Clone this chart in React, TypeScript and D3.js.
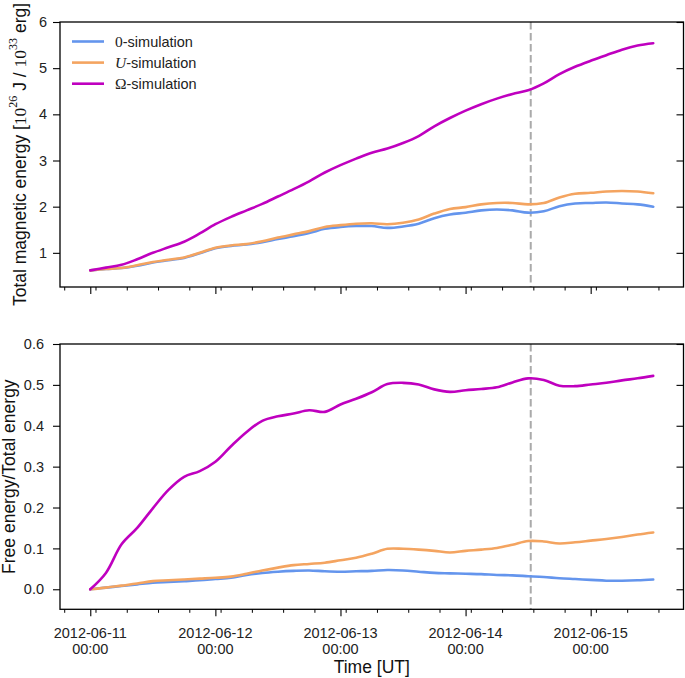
import React, { useEffect, useRef } from 'react';
import * as d3 from 'd3';

// hours after 2012-06-11 00:00 UT
const hours = [0, 3, 6, 9, 12, 15, 18, 21, 24, 27, 30, 33, 36, 39, 42, 45, 48, 51, 54, 57, 60, 63, 66, 69, 72, 75, 78, 81, 84, 87, 90, 93, 96, 99, 102, 105, 108];

// total magnetic energy [1e26 J]
const totalZero = [0.62, 0.65, 0.67, 0.72, 0.79, 0.84, 0.89, 0.99, 1.10, 1.15, 1.18, 1.23, 1.30, 1.36, 1.43, 1.52, 1.56, 1.58, 1.58, 1.54, 1.57, 1.63, 1.75, 1.83, 1.87, 1.92, 1.94, 1.92, 1.87, 1.90, 2.01, 2.07, 2.08, 2.09, 2.07, 2.05, 2.00];
const totalU = [0.62, 0.65, 0.67, 0.73, 0.80, 0.85, 0.90, 1.00, 1.11, 1.16, 1.19, 1.25, 1.33, 1.40, 1.47, 1.56, 1.60, 1.63, 1.64, 1.62, 1.65, 1.72, 1.85, 1.95, 1.99, 2.05, 2.08, 2.08, 2.05, 2.08, 2.20, 2.28, 2.30, 2.33, 2.34, 2.33, 2.29];
const totalOmega = [0.62, 0.68, 0.74, 0.86, 1.00, 1.12, 1.24, 1.42, 1.62, 1.78, 1.92, 2.06, 2.22, 2.38, 2.55, 2.74, 2.90, 3.04, 3.17, 3.26, 3.38, 3.53, 3.74, 3.92, 4.08, 4.22, 4.34, 4.44, 4.52, 4.67, 4.87, 5.03, 5.16, 5.28, 5.40, 5.49, 5.54];

// free energy / total energy
const ratioZero = [0, 0.004, 0.008, 0.012, 0.016, 0.018, 0.020, 0.022, 0.025, 0.028, 0.035, 0.040, 0.043, 0.045, 0.046, 0.044, 0.043, 0.044, 0.045, 0.047, 0.046, 0.043, 0.040, 0.039, 0.038, 0.037, 0.035, 0.034, 0.032, 0.030, 0.027, 0.025, 0.023, 0.021, 0.021, 0.022, 0.024];
const ratioU = [0, 0.004, 0.009, 0.014, 0.020, 0.022, 0.024, 0.026, 0.028, 0.031, 0.038, 0.046, 0.053, 0.059, 0.062, 0.065, 0.071, 0.077, 0.087, 0.099, 0.099, 0.097, 0.094, 0.090, 0.094, 0.097, 0.101, 0.109, 0.118, 0.117, 0.112, 0.115, 0.119, 0.123, 0.128, 0.134, 0.139];
const ratioOmega = [0, 0.040, 0.110, 0.150, 0.198, 0.243, 0.275, 0.289, 0.312, 0.350, 0.385, 0.412, 0.423, 0.430, 0.438, 0.434, 0.452, 0.466, 0.482, 0.502, 0.505, 0.501, 0.489, 0.483, 0.487, 0.490, 0.494, 0.506, 0.516, 0.512, 0.498, 0.497, 0.501, 0.505, 0.511, 0.516, 0.522];

const seriesNames = ['0', 'U', 'Ω'];
const seriesColors = ['#6495ed', '#f4a460', '#bf00bf'];

const topTicks = [1, 2, 3, 4, 5, 6];
const bottomTicks = [0, 0.1, 0.2, 0.3, 0.4, 0.5, 0.6];
const dateLabels = ['2012-06-11', '2012-06-12', '2012-06-13', '2012-06-14', '2012-06-15'];
const timeLabels = ['00:00', '00:00', '00:00', '00:00', '00:00'];

const eventHour = 84.5;

const SANS = '"Liberation Sans", Arial, sans-serif';
const SERIF = '"Liberation Serif", "DejaVu Serif", serif';

const App: React.FC = () => {
  const svgRef = useRef<SVGSVGElement | null>(null);

  useEffect(() => {
    const svg = d3.select(svgRef.current);
    svg.selectAll('*').remove();

    const t0 = Date.UTC(2012, 5, 11, 0, 0);
    const H = 3600 * 1000;
    const toDate = (h: number) => new Date(t0 + h * H);

    const left = 60, right = 683.5;
    const x = d3.scaleUtc()
      .domain([toDate(-0.242 * 24), toDate(4.742 * 24)])
      .range([left, right]);

    const panels = [
      { top: 22, bottom: 287, domain: [0.26, 6], ticks: topTicks, fmt: d3.format('d'), data: [totalZero, totalU, totalOmega], labelX: 20, lblRight: 47 },
      { top: 344, bottom: 609.3, domain: [-0.049, 0.6], ticks: bottomTicks, fmt: d3.format('.1f'), data: [ratioZero, ratioU, ratioOmega], labelX: 9, lblRight: 44 },
    ];

    const dayTicks = dateLabels.map((_, i) => toDate(i * 24));
    const minorTicks = d3.utcHours(toDate(-5), toDate(113), 6).filter(d => d.getUTCHours() !== 0);

    panels.forEach((p, pi) => {
      const y = d3.scaleLinear().domain(p.domain).range([p.bottom, p.top]);
      const g = svg.append('g');

      // lines
      const line = d3.line<number>()
        .x((_, i) => x(toDate(hours[i])))
        .y(d => y(d))
        .curve(d3.curveCatmullRom);

      // event marker
      g.append('line')
        .attr('x1', x(toDate(eventHour))).attr('x2', x(toDate(eventHour)))
        .attr('y1', p.top).attr('y2', p.bottom)
        .attr('stroke', '#aaaaaa').attr('stroke-width', 2)
        .attr('stroke-dasharray', '7.5,3.5');

      p.data.forEach((vals, si) => {
        g.append('path')
          .datum(vals)
          .attr('d', line)
          .attr('fill', 'none')
          .attr('stroke', seriesColors[si])
          .attr('stroke-width', 2.6)
          .attr('stroke-linejoin', 'round')
          .attr('stroke-linecap', 'round');
      });

      // frame
      g.append('rect')
        .attr('x', left).attr('y', p.top)
        .attr('width', right - left).attr('height', p.bottom - p.top)
        .attr('fill', 'none').attr('stroke', '#000').attr('stroke-width', 1.3);

      // y axis left
      const ya = g.append('g').attr('transform', `translate(${left},0)`)
        .call(d3.axisLeft(y).tickValues(p.ticks).tickFormat(p.fmt as any).tickSize(7).tickPadding(left - p.lblRight - 7));
      ya.select('.domain').remove();
      ya.selectAll('line').attr('stroke', '#000').attr('stroke-width', 1.1);
      ya.selectAll('text').attr('font-family', SANS).attr('font-size', 14.5).attr('fill', '#222');

      // y axis right, inward ticks
      const yr = g.append('g').attr('transform', `translate(${right},0)`)
        .call(d3.axisRight(y).tickValues(p.ticks).tickFormat(() => '').tickSize(-7));
      yr.select('.domain').remove();
      yr.selectAll('line').attr('stroke', '#000').attr('stroke-width', 1.1);

      // x ticks
      const xa = g.append('g').attr('transform', `translate(0,${p.bottom})`)
        .call(d3.axisBottom(x).tickValues(dayTicks).tickFormat(() => '').tickSize(7));
      xa.select('.domain').remove();
      xa.selectAll('line').attr('stroke', '#000').attr('stroke-width', 1.1);
      const xm = g.append('g').attr('transform', `translate(0,${p.bottom})`)
        .call(d3.axisBottom(x).tickValues(minorTicks).tickFormat(() => '').tickSize(3.5));
      xm.select('.domain').remove();
      xm.selectAll('line').attr('stroke', '#000').attr('stroke-width', 1);

      // y label
      const cy = (p.top + p.bottom) / 2;
      const lbl = g.append('text')
        .attr('transform', `translate(${p.labelX},${cy}) rotate(-90)`)
        .attr('text-anchor', 'middle')
        .attr('dominant-baseline', 'central')
        .attr('font-family', SANS)
        .attr('font-size', 17.5)
        .attr('fill', '#111');
      if (pi === 0) {
        lbl.append('tspan').text('Total magnetic energy [');
        lbl.append('tspan').attr('font-family', SERIF).text('10');
        lbl.append('tspan').attr('font-family', SERIF).attr('font-size', 12).attr('dy', -7).text('26');
        lbl.append('tspan').attr('dy', 7).text(' J / ');
        lbl.append('tspan').attr('font-family', SERIF).text('10');
        lbl.append('tspan').attr('font-family', SERIF).attr('font-size', 12).attr('dy', -7).text('33');
        lbl.append('tspan').attr('dy', 7).text(' erg]');
      } else {
        lbl.text('Free energy/Total energy');
      }
    });

    // bottom date labels
    const lab = svg.append('g').attr('font-family', SANS).attr('font-size', 14.5).attr('fill', '#222').attr('text-anchor', 'middle');
    dayTicks.forEach((d, i) => {
      lab.append('text').attr('x', x(d)).attr('y', 638).text(dateLabels[i]);
      lab.append('text').attr('x', x(d)).attr('y', 654).text(timeLabels[i]);
    });
    svg.append('text')
      .attr('x', (left + right) / 2).attr('y', 673)
      .attr('text-anchor', 'middle')
      .attr('font-family', SANS).attr('font-size', 17.5).attr('fill', '#111')
      .text('Time [UT]');

    // legend
    const leg = svg.append('g');
    seriesNames.forEach((name, i) => {
      const ly = 41.5 + i * 21.1;
      leg.append('line')
        .attr('x1', 72).attr('x2', 104).attr('y1', ly).attr('y2', ly)
        .attr('stroke', seriesColors[i]).attr('stroke-width', 2.6);
      const t = leg.append('text')
        .attr('x', 115).attr('y', ly + 5.2)
        .attr('font-family', SANS).attr('font-size', 14.5).attr('fill', '#222');
      t.append('tspan').attr('font-family', SERIF).attr('font-size', 15.5)
        .attr('font-style', name === 'U' ? 'italic' : 'normal').text(name);
      t.append('tspan').text('-simulation');
    });
  }, []);

  return (
    <svg ref={svgRef} width={685} height={678}
      style={{ position: 'absolute', left: 0, top: 0, background: '#fff' }} />
  );
};

export default App;
